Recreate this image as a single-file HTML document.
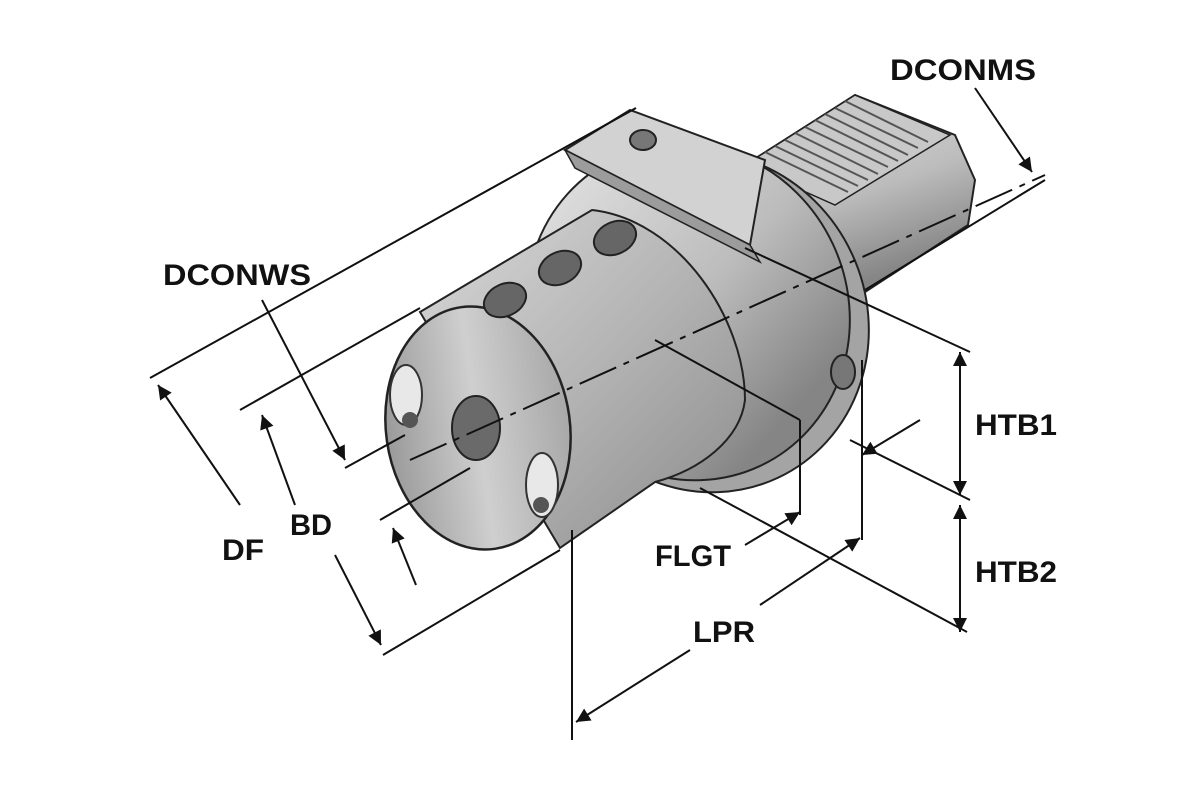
<!DOCTYPE html>
<html><head><meta charset="utf-8"><style>
html,body{margin:0;padding:0;background:#fff;}
svg{display:block;}
text{font-family:"Liberation Sans",sans-serif;font-weight:bold;font-size:30px;fill:#111;}
</style></head><body>
<svg width="1200" height="800" viewBox="0 0 1200 800" xmlns="http://www.w3.org/2000/svg">
<defs>
<linearGradient id="g1" x1="0" y1="0" x2="1" y2="1">
<stop offset="0" stop-color="#d8d8d8"/><stop offset="0.5" stop-color="#b4b4b4"/><stop offset="1" stop-color="#8a8a8a"/></linearGradient>
<linearGradient id="g2" x1="0" y1="0" x2="0.4" y2="1">
<stop offset="0" stop-color="#e4e4e4"/><stop offset="0.6" stop-color="#bcbcbc"/><stop offset="1" stop-color="#858585"/></linearGradient>
<linearGradient id="g3" x1="0" y1="0" x2="1" y2="0">
<stop offset="0" stop-color="#9a9a9a"/><stop offset="0.5" stop-color="#cfcfcf"/><stop offset="1" stop-color="#a8a8a8"/></linearGradient>
<marker id="ab" viewBox="0 0 10 10" refX="10" refY="5" markerWidth="26" markerHeight="14" orient="auto-start-reverse" markerUnits="userSpaceOnUse">
<path d="M0,0 L10,5 L0,10 z" fill="#111"/></marker>
</defs>

<!-- shank -->
<polygon points="745,165 855,95 955,135 975,180 968,225 865,292 830,250" fill="url(#g2)" stroke="#222" stroke-width="2"/>
<polygon points="745,165 855,95 950,135 835,205" fill="#c8c8c8" stroke="#222" stroke-width="1.5"/>
<g stroke="#555" stroke-width="2">
<line x1="765" y1="152" x2="848" y2="192"/><line x1="775" y1="146" x2="858" y2="186"/>
<line x1="785" y1="140" x2="868" y2="180"/><line x1="795" y1="133" x2="878" y2="174"/>
<line x1="805" y1="127" x2="888" y2="167"/><line x1="815" y1="120" x2="898" y2="161"/>
<line x1="825" y1="114" x2="908" y2="155"/><line x1="835" y1="108" x2="918" y2="148"/>
<line x1="845" y1="101" x2="928" y2="142"/>
</g>
<!-- flange -->
<ellipse cx="705" cy="322" rx="162" ry="172" transform="rotate(-25 705 322)" fill="#a4a4a4" stroke="#222" stroke-width="2"/>
<ellipse cx="688" cy="312" rx="160" ry="170" transform="rotate(-25 688 312)" fill="url(#g2)" stroke="#222" stroke-width="2"/>
<!-- block -->
<polygon points="565,150 630,110 765,160 750,245" fill="#d2d2d2" stroke="#222" stroke-width="2"/>
<polygon points="565,150 750,245 760,262 575,168" fill="#9c9c9c" stroke="#222" stroke-width="1.5"/>
<ellipse cx="643" cy="140" rx="13" ry="10" fill="#777" stroke="#222" stroke-width="2"/>
<ellipse cx="843" cy="372" rx="12" ry="17" fill="#777" stroke="#222" stroke-width="2"/>
<!-- front cylinder -->
<path d="M420,312 L592,210 C680,220 745,320 745,400 C740,440 700,470 655,482 L560,548 Z" fill="url(#g1)" stroke="#222" stroke-width="2"/>
<ellipse cx="478" cy="428" rx="92" ry="122" transform="rotate(-8 478 428)" fill="url(#g3)" stroke="#222" stroke-width="2.5"/>
<ellipse cx="505" cy="300" rx="22" ry="16" transform="rotate(-25 505 300)" fill="#666" stroke="#222" stroke-width="2"/>
<ellipse cx="560" cy="268" rx="22" ry="16" transform="rotate(-25 560 268)" fill="#666" stroke="#222" stroke-width="2"/>
<ellipse cx="615" cy="238" rx="22" ry="16" transform="rotate(-25 615 238)" fill="#666" stroke="#222" stroke-width="2"/>
<ellipse cx="476" cy="428" rx="24" ry="32" fill="#6a6a6a" stroke="#222" stroke-width="2"/>
<ellipse cx="406" cy="395" rx="16" ry="30" fill="#e8e8e8" stroke="#333" stroke-width="2"/>
<circle cx="410" cy="420" r="8" fill="#555"/>
<ellipse cx="542" cy="485" rx="16" ry="32" fill="#e8e8e8" stroke="#333" stroke-width="2"/>
<circle cx="541" cy="505" r="8" fill="#555"/>

<!-- dimension & extension lines -->
<g stroke="#111" stroke-width="2" fill="none">
<line x1="150" y1="378" x2="636" y2="108"/>
<line x1="240" y1="410" x2="420" y2="308"/>
<line x1="345" y1="468" x2="405" y2="435"/>
<line x1="380" y1="520" x2="470" y2="468"/>
<line x1="383" y1="655" x2="560" y2="550"/>
<line x1="410" y1="460" x2="1045" y2="175" stroke-dasharray="40,8,6,8"/>
<line x1="865" y1="290" x2="1045" y2="180"/>
<line x1="745" y1="248" x2="970" y2="352"/>
<line x1="655" y1="340" x2="800" y2="420"/>
<line x1="850" y1="440" x2="970" y2="500"/>
<line x1="700" y1="488" x2="967" y2="632"/>
<line x1="800" y1="420" x2="800" y2="515"/>
<line x1="862" y1="360" x2="862" y2="540"/>
<line x1="572" y1="530" x2="572" y2="740"/>
</g>
<g stroke="#111" stroke-width="2" fill="none">
<line x1="262" y1="300" x2="345" y2="460" marker-end="url(#ab)"/>
<line x1="240" y1="505" x2="158" y2="385" marker-end="url(#ab)"/>
<line x1="295" y1="505" x2="262" y2="415" marker-end="url(#ab)"/>
<line x1="335" y1="555" x2="381" y2="645" marker-end="url(#ab)"/>
<line x1="416" y1="585" x2="393" y2="528" marker-end="url(#ab)"/>
<line x1="975" y1="88" x2="1032" y2="172" marker-end="url(#ab)"/>
<line x1="960" y1="425" x2="960" y2="352" marker-end="url(#ab)"/>
<line x1="960" y1="425" x2="960" y2="495" marker-end="url(#ab)"/>
<line x1="960" y1="570" x2="960" y2="505" marker-end="url(#ab)"/>
<line x1="960" y1="570" x2="960" y2="632" marker-end="url(#ab)"/>
<line x1="745" y1="545" x2="800" y2="512" marker-end="url(#ab)"/>
<line x1="920" y1="420" x2="862" y2="455" marker-end="url(#ab)"/>
<line x1="690" y1="650" x2="576" y2="722" marker-end="url(#ab)"/>
<line x1="760" y1="605" x2="860" y2="538" marker-end="url(#ab)"/>
</g>

<text x="890" y="80" textLength="146" lengthAdjust="spacingAndGlyphs">DCONMS</text>
<text x="163" y="285" textLength="148" lengthAdjust="spacingAndGlyphs">DCONWS</text>
<text x="222" y="560" textLength="42" lengthAdjust="spacingAndGlyphs">DF</text>
<text x="290" y="535" textLength="42" lengthAdjust="spacingAndGlyphs">BD</text>
<text x="655" y="566" textLength="76" lengthAdjust="spacingAndGlyphs">FLGT</text>
<text x="693" y="642" textLength="62" lengthAdjust="spacingAndGlyphs">LPR</text>
<text x="975" y="435" textLength="82" lengthAdjust="spacingAndGlyphs">HTB1</text>
<text x="975" y="582" textLength="82" lengthAdjust="spacingAndGlyphs">HTB2</text>
</svg>
</body></html>
